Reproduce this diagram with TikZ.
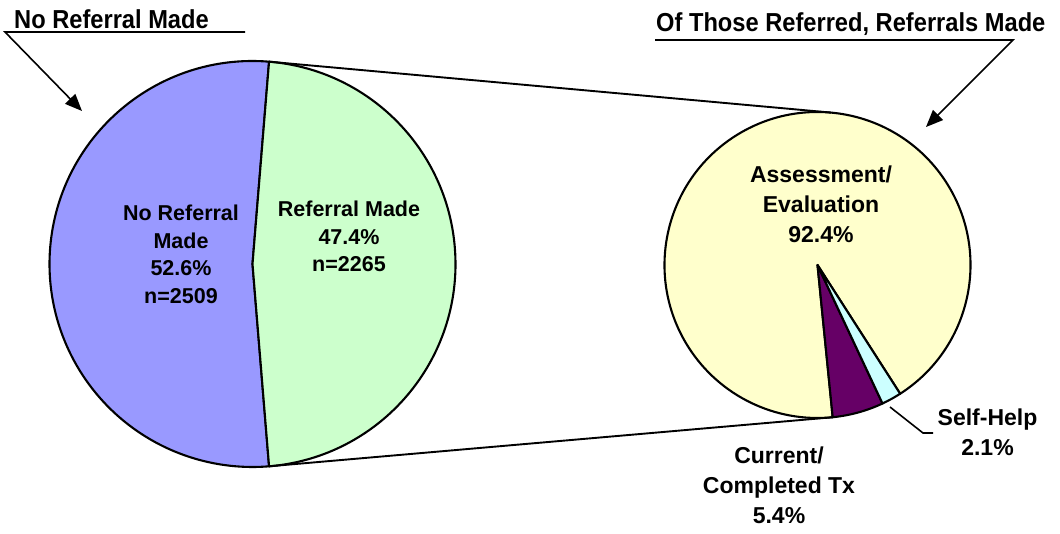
\documentclass[tikz,border=0pt]{standalone}
\usepackage{fontspec}
\setmainfont{Liberation Sans}
\newfontfamily\titlefont{Liberation Sans}[FakeStretch=0.91]
\usetikzlibrary{calc,arrows.meta}
\definecolor{noref}{HTML}{9999FF}
\definecolor{refmade}{HTML}{CCFFCC}
\definecolor{assess}{HTML}{FFFFCC}
\definecolor{curtx}{HTML}{660066}
\definecolor{selfhelp}{HTML}{CCFFFF}
\tikzset{
  slice/.style={draw=black,line width=2.1pt,line join=round},
  link/.style={draw=black,line width=1.9pt},
  pointer/.style={draw=black,line width=1.6pt,-{Triangle[length=17pt,width=14pt]}},
  charttitle/.style={inner sep=0pt,anchor=base west,font=\titlefont\bfseries\fontsize{26}{30}\selectfont},
  leftlabel/.style={inner sep=0pt,anchor=north,align=center,font=\bfseries\fontsize{21.5}{27.5}\selectfont},
  rightlabel/.style={inner sep=0pt,anchor=north,align=center,font=\bfseries\fontsize{23}{30}\selectfont}
}
\begin{document}
\begin{tikzpicture}[x=1pt,y=1pt]
\useasboundingbox (0,0) rectangle (1060,533);
% centres
\coordinate (L) at (252.5,269);
\coordinate (R) at (817.5,268);
% left pie
\coordinate (Ltop) at ($(L)+(85.32:203pt)$);
\coordinate (Lbot) at ($(L)+(-85.32:203pt)$);
\fill[noref,slice] (L) -- (Ltop) arc[start angle=85.32,end angle=274.68,radius=203pt] -- cycle;
\fill[refmade,slice] (L) -- (Lbot) arc[start angle=-85.32,end angle=85.32,radius=203pt] -- cycle;
% right pie
\coordinate (Rtop) at ($(R)+(85:153pt)$);
\coordinate (Rbot) at ($(R)+(-84.3:153pt)$);
\coordinate (Rmid) at ($(R)+(-64.86:153pt)$);
\coordinate (Rend) at ($(R)+(-57.3:153pt)$);
\fill[assess,slice] (R) -- (Rend) arc[start angle=-57.3,end angle=275.7,radius=153pt] -- cycle;
\fill[curtx,slice] (R) -- (Rbot) arc[start angle=-84.3,end angle=-64.86,radius=153pt] -- cycle;
\fill[selfhelp,slice] (R) -- (Rmid) arc[start angle=-64.86,end angle=-57.3,radius=153pt] -- cycle;
% pie-of-pie connectors
\draw[link] (Ltop) -- (Rtop);
\draw[link] (Lbot) -- (Rbot);
% slice labels
\node[leftlabel] (lnoref) at (181,328) {No Referral\\Made\\52.6\%\\n=2509};
\node[leftlabel] (lref) at (349,332) {Referral Made\\47.4\%\\n=2265};
\node[rightlabel] (lassess) at (821,367) {Assessment/\\Evaluation\\92.4\%};
\node[rightlabel] (lself) at (987.5,124.5) {Self-Help\\2.1\%};
\node[rightlabel] (lcur) at (779,86.5) {Current/\\Completed Tx\\5.4\%};
% self-help leader
\coordinate (shA) at (890,126);
\coordinate (shB) at (923,100);
\coordinate (shC) at (933,100);
\draw[line width=1.6pt] (shA) -- (shB) -- (shC);
% titles
\node[charttitle] (tleft) at (14,504.7) {No Referral Made};
\node[charttitle] (tright) at (656,501) {Of Those Referred, Referrals Made};
\coordinate (ulA) at (245,501);
\coordinate (ulB) at (5,501);
\coordinate (ulTip) at (82,422);
\draw[pointer] (ulA) -- (ulB) -- (ulTip);
\coordinate (urA) at (655,493);
\coordinate (urB) at (1013,493);
\coordinate (urTip) at (926,406);
\draw[pointer] (urA) -- (urB) -- (urTip);
\end{tikzpicture}
\end{document}
